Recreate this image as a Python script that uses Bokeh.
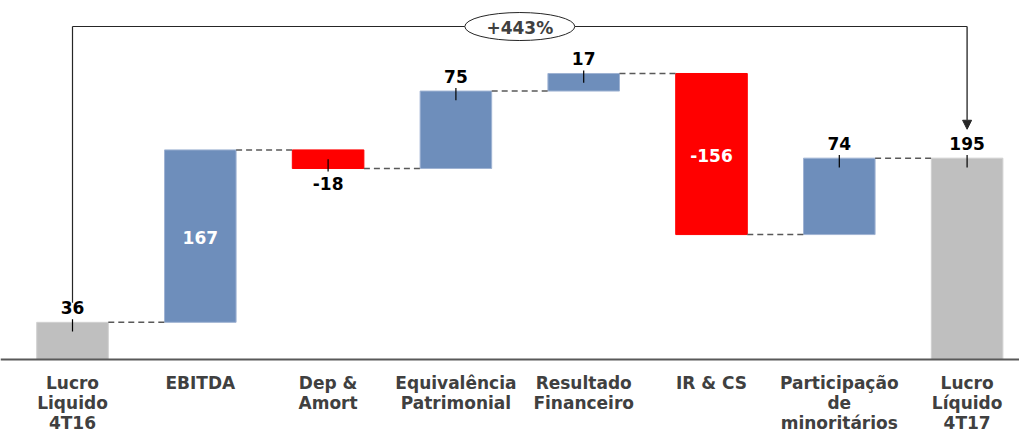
from bokeh.plotting import figure
from bokeh.models import Range1d, Span, Arrow, NormalHead
from bokeh.core.properties import value
from bokeh.embed import file_html
from bokeh.resources import INLINE

categories = ["Lucro\nLiquido\n4T16", "EBITDA", "Dep &\nAmort", "Equivalência\nPatrimonial",
              "Resultado\nFinanceiro", "IR & CS", "Participação\nde\nminoritários", "Lucro\nLíquido\n4T17"]
values = [36, 167, -18, 75, 17, -156, 74, 195]
is_total = [True, False, False, False, False, False, False, True]
growth_label = "+443%"

BLUE = "#6E8EBB"
RED = "#FF0000"
GRAY = "#BFBFBF"
FONT = value("DejaVu Sans")

# waterfall geometry
bottoms, tops, ends = [], [], []
level = 0
for v, t in zip(values, is_total):
    if t:
        b, e = 0, v
        level = v
    else:
        b, e = level, level + v
        level = e
    bottoms.append(min(b, e))
    tops.append(max(b, e))
    ends.append(e)

xs = list(range(len(values)))
colors = [GRAY if t else (BLUE if v >= 0 else RED) for v, t in zip(values, is_total)]
edge = ["#D0D0D0" if t else ("#9FB3D3" if v >= 0 else RED) for v, t in zip(values, is_total)]

p = figure(width=1019, height=432, output_backend="svg", toolbar_location=None,
           x_range=Range1d(-0.5634, 7.41), y_range=Range1d(-70.7, 347.7),
           min_border=0, outline_line_color=None)
p.xaxis.visible = False
p.yaxis.visible = False
p.xgrid.visible = False
p.ygrid.visible = False
p.background_fill_color = "white"
p.border_fill_color = "white"

BW = 0.56
p.vbar(x=xs, bottom=bottoms, top=tops, width=BW, fill_color=colors, line_color=edge, line_width=1)

# connectors
cx0, cx1, cy = [], [], []
for i in range(len(values) - 1):
    cx0.append(i + BW / 2)
    cx1.append(i + 1 - BW / 2)
    cy.append(ends[i])
p.segment(x0=cx0, y0=cy, x1=cx1, y1=cy, line_color="#595959", line_width=1.5, line_dash="6 4")

# baseline
p.add_layout(Span(location=0, dimension="width", line_color="#595959", line_width=2))

# value labels
inside = [(not t) and abs(v) > 100 for v, t in zip(values, is_total)]
out_x, out_y, out_t, out_off = [], [], [], []
in_x, in_y, in_t = [], [], []
tk_x, tk_y0, tk_y1 = [], [], []
for i, (v, e, ins) in enumerate(zip(values, ends, inside)):
    if ins:
        in_x.append(i); in_y.append((bottoms[i] + tops[i]) / 2); in_t.append(str(v))
    else:
        out_x.append(i); out_y.append(e); out_t.append(str(v))
        out_off.append(-15 if v >= 0 else 15)
        s = 1 if v >= 0 else -1
        tk_x.append(i); tk_y0.append(e + s * 3); tk_y1.append(e - s * 9)

p.segment(x0=tk_x, y0=tk_y0, x1=tk_x, y1=tk_y1, line_color="#000000", line_width=1.2)
p.text(x=out_x, y=out_y, text=out_t, y_offset=out_off, text_align="center", text_baseline="middle",
       text_font=FONT, text_font_style="bold", text_font_size="17px", text_color="#000000")
p.text(x=in_x, y=in_y, text=in_t, y_offset=1, text_align="center", text_baseline="middle",
       text_font=FONT, text_font_style="bold", text_font_size="17px", text_color="#FFFFFF")

# category labels
p.text(x=xs, y=[0] * len(xs), text=categories, y_offset=13, text_align="center", text_baseline="top",
       text_font=FONT, text_font_style="bold", text_font_size="17px", text_color="#404040",
       text_line_height=1.0)

# growth bracket
BRACKET_Y = 322.5
first, last = 0, len(values) - 1
p.segment(x0=[first, first], y0=[ends[first] + 19, BRACKET_Y], x1=[first, last], y1=[BRACKET_Y, BRACKET_Y],
          line_color="#262626", line_width=1.2)
p.add_layout(Arrow(end=NormalHead(size=9, fill_color="#262626", line_color="#262626"),
                   x_start=last, y_start=BRACKET_Y, x_end=last, y_end=ends[last] + 28,
                   line_color="#404040", line_width=1.5))
mid = (first + last) / 2
p.ellipse(x=[mid], y=[BRACKET_Y], width=110, height=28, width_units="screen", height_units="screen",
          fill_color="white", line_color="#262626", line_width=1)
p.text(x=[mid], y=[BRACKET_Y], text=[growth_label], y_offset=1, text_align="center", text_baseline="middle",
       text_font=FONT, text_font_style="bold", text_font_size="17px", text_color="#404040")

open("out.html", "w").write(file_html(p, INLINE))
